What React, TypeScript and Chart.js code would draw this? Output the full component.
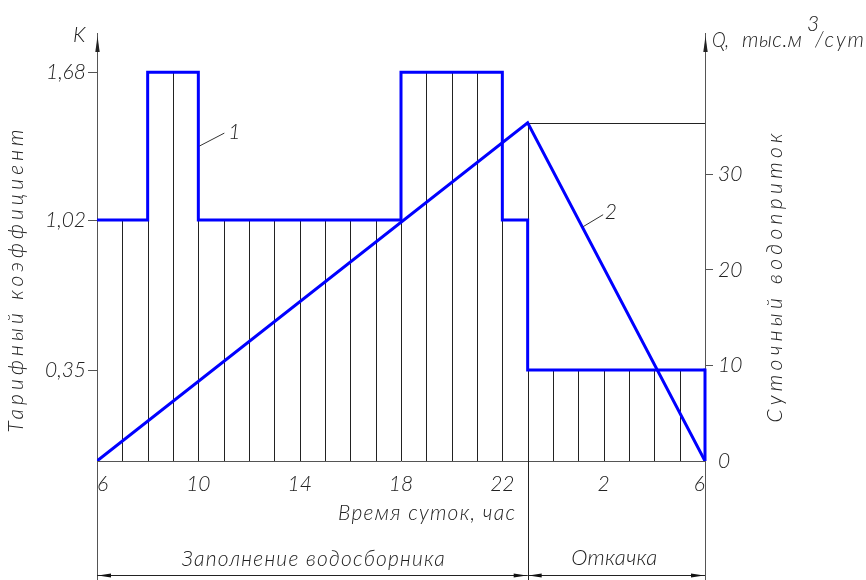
import React, { useEffect, useRef } from 'react';
import { Chart, registerables } from 'chart.js';

Chart.register(...registerables);

// ---------- data ----------
const TARIFF_HOURS = [6, 8, 10, 18, 22, 23, 30];
const TARIFF_VALUES = [1.02, 1.68, 1.02, 1.68, 1.02, 0.35, 0.35];

const INFLOW_HOURS = [6, 23, 30];
const INFLOW_VALUES = [0, 35.4, 0];

const X_TICK_HOURS = [6, 10, 14, 18, 22, 26, 30];
const X_TICK_LABELS = ['6', '10', '14', '18', '22', '2', '6'];

const K_TICKS = [0.35, 1.02, 1.68];
const K_TICK_LABELS = ['0,35', '1,02', '1,68'];

const Q_TICKS = [0, 10, 20, 30];
const Q_TICK_LABELS = ['0', '10', '20', '30'];

const PHASE_BOUNDS = [6, 23, 30];
const PHASE_LABELS = ['Заполнение водосборника', 'Откачка'];

const SERIES_LABELS = ['1', '2'];

// ---------- styling ----------
const W = 866;
const H = 580;
const FAMILY = 'Lato, "DejaVu Sans", sans-serif';
const WEIGHT = 300;
const INK = '#222';
const AXIS = '#555';
const BLUE = '#0000ff';
const K_MIN = -0.056;
const K_MAX = 1.855;
const Q_MIN = 0;
const Q_MAX = 44.8;

const font = (size: number) => `italic ${WEIGHT} ${size}px ${FAMILY}`;

function tariffAt(h: number): number {
  let v = TARIFF_VALUES[0];
  for (let i = 0; i < TARIFF_HOURS.length; i++) {
    if (TARIFF_HOURS[i] <= h) v = TARIFF_VALUES[i];
  }
  return v;
}

function inflowAt(h: number): number {
  for (let i = 0; i < INFLOW_HOURS.length - 1; i++) {
    const a = INFLOW_HOURS[i], b = INFLOW_HOURS[i + 1];
    if (h >= a && h <= b) {
      const t = (h - a) / (b - a);
      return INFLOW_VALUES[i] + t * (INFLOW_VALUES[i + 1] - INFLOW_VALUES[i]);
    }
  }
  return 0;
}

// draw text fitted to a target width (letter spacing, or horizontal squeeze if too wide)
function fitText(ctx: any, text: string, x: number, y: number, width: number, size: number, align: 'left' | 'center' | 'right') {
  ctx.save();
  ctx.font = font(size);
  ctx.fillStyle = INK;
  ctx.textBaseline = 'middle';
  ctx.textAlign = 'left';
  const hasLS = 'letterSpacing' in ctx;
  if (hasLS) ctx.letterSpacing = '0px';
  const w0 = ctx.measureText(text).width;
  const n = text.length;
  let ls = n > 1 ? (width - w0) / (n - 1) : 0;
  let sx = 1;
  if (!hasLS || ls < 0) {
    ls = 0;
    sx = width / w0;
  }
  let left = x;
  if (align === 'center') left = x - width / 2;
  if (align === 'right') left = x - width;
  ctx.translate(left, y);
  ctx.scale(sx, 1);
  if (hasLS) ctx.letterSpacing = `${ls}px`;
  ctx.fillText(text, 0, 0);
  ctx.restore();
}

function line(ctx: any, x1: number, y1: number, x2: number, y2: number) {
  ctx.beginPath();
  ctx.moveTo(x1, y1);
  ctx.lineTo(x2, y2);
  ctx.stroke();
}

function arrowHead(ctx: any, tx: number, ty: number, dx: number, dy: number, len: number, half: number) {
  const bx = tx - dx * len, by = ty - dy * len;
  const nx = -dy, ny = dx;
  ctx.beginPath();
  ctx.moveTo(tx, ty);
  ctx.lineTo(bx + nx * half, by + ny * half);
  ctx.lineTo(bx - nx * half, by - ny * half);
  ctx.closePath();
  ctx.fill();
}

const decor = {
  id: 'decor',
  beforeDatasetsDraw(chart: any) {
    const { ctx, chartArea: a, scales } = chart;
    const x = scales.x, yk = scales.y, yq = scales.y1;
    const peakHour = INFLOW_HOURS[1];
    const peakY = yq.getPixelForValue(INFLOW_VALUES[1]);
    ctx.save();
    ctx.strokeStyle = '#222';
    ctx.lineWidth = 1;
    for (let h = X_TICK_HOURS[0] + 1; h < X_TICK_HOURS[X_TICK_HOURS.length - 1]; h++) {
      const px = Math.round(x.getPixelForValue(h)) + 0.5;
      if (h === peakHour) {
        line(ctx, px, peakY, px, H);
      } else {
        line(ctx, px, a.bottom, px, yk.getPixelForValue(tariffAt(h)));
      }
    }
    line(ctx, x.getPixelForValue(peakHour), Math.round(peakY) + 0.5, a.right, Math.round(peakY) + 0.5);
    ctx.strokeStyle = AXIS;
    line(ctx, Math.round(a.left) + 0.5, a.bottom, Math.round(a.left) + 0.5, H);
    line(ctx, Math.round(a.right) + 0.5, a.bottom, Math.round(a.right) + 0.5, H);
    ctx.restore();
  },
  afterDatasetsDraw(chart: any) {
    const { ctx, chartArea: a, scales } = chart;
    const x = scales.x, yk = scales.y, yq = scales.y1;
    ctx.save();
    const endH = TARIFF_HOURS[TARIFF_HOURS.length - 1];
    ctx.strokeStyle = BLUE;
    ctx.lineWidth = 3;
    const ex = x.getPixelForValue(endH);
    line(ctx, ex, yk.getPixelForValue(TARIFF_VALUES[TARIFF_VALUES.length - 1]) - 1.5, ex, a.bottom);

    ctx.fillStyle = '#222';
    ctx.strokeStyle = AXIS;
    ctx.lineWidth = 1;
    arrowHead(ctx, Math.round(a.left) + 0.5, a.top + 3, 0, -1, 16, 2.2);
    arrowHead(ctx, Math.round(a.right) + 0.5, a.top + 3, 0, -1, 16, 2.2);

    const dimY = 575.5;
    ctx.strokeStyle = '#222';
    ctx.fillStyle = '#111';
    for (let i = 0; i < PHASE_BOUNDS.length - 1; i++) {
      const x1 = x.getPixelForValue(PHASE_BOUNDS[i]);
      const x2 = x.getPixelForValue(PHASE_BOUNDS[i + 1]);
      line(ctx, x1, dimY, x2, dimY);
      arrowHead(ctx, x1 + 1, dimY, -1, 0, 13, 2);
      arrowHead(ctx, x2 - 1, dimY, 1, 0, 13, 2);
    }
    fitText(ctx, PHASE_LABELS[0], (x.getPixelForValue(PHASE_BOUNDS[0]) + x.getPixelForValue(PHASE_BOUNDS[1])) / 2 + 1, 559, 263, 21, 'center');
    fitText(ctx, PHASE_LABELS[1], (x.getPixelForValue(PHASE_BOUNDS[1]) + x.getPixelForValue(PHASE_BOUNDS[2])) / 2 - 2, 558, 86, 22, 'center');

    fitText(ctx, 'Время суток, час', 515, 513, 177, 21, 'right');

    fitText(ctx, 'K', 79, 35, 12, 21, 'center');
    fitText(ctx, 'Q,', 712, 40, 17, 21, 'left');
    fitText(ctx, 'тыс.м', 742, 40, 60, 21, 'left');
    fitText(ctx, '3', 807, 24, 9, 21, 'left');
    fitText(ctx, '/сут', 815, 40, 49, 21, 'left');

    ctx.save();
    ctx.translate(16, 281);
    ctx.rotate(-Math.PI / 2);
    fitText(ctx, 'Тарифный коэффициент', 0, 0, 303, 21, 'center');
    ctx.restore();
    ctx.save();
    ctx.translate(775, 278);
    ctx.rotate(-Math.PI / 2);
    fitText(ctx, 'Суточный водоприток', 0, 0, 289, 21, 'center');
    ctx.restore();

    ctx.strokeStyle = '#333';
    ctx.lineWidth = 1;
    const p1x = x.getPixelForValue(TARIFF_HOURS[2]) + 1;
    const p1y = yk.getPixelForValue((TARIFF_VALUES[1] + TARIFF_VALUES[2]) / 2);
    line(ctx, p1x, p1y, p1x + 25, p1y - 13);
    fitText(ctx, SERIES_LABELS[0], p1x + 33, p1y - 14, 8, 21, 'center');

    const h2 = 25.15;
    const p2x = x.getPixelForValue(h2) + 1;
    const p2y = yq.getPixelForValue(inflowAt(h2));
    line(ctx, p2x, p2y, p2x + 20, p2y - 12);
    fitText(ctx, SERIES_LABELS[1], p2x + 27, p2y - 14, 11, 21, 'center');
    ctx.restore();
  },
};

export default function App() {
  const ref = useRef<HTMLCanvasElement>(null);
  useEffect(() => {
    document.body.style.margin = '0';
    const canvas = ref.current!;
    const tickFont = { family: FAMILY, size: 21, style: 'italic' as const, weight: WEIGHT };
    const chart = new Chart(canvas, {
      type: 'line',
      data: {
        datasets: [
          {
            label: 'K',
            data: TARIFF_HOURS.map((h, i) => ({ x: h, y: TARIFF_VALUES[i] })),
            yAxisID: 'y',
            stepped: 'before',
            borderColor: BLUE,
            borderWidth: 3,
            pointRadius: 0,
            fill: false,
          },
          {
            label: 'Q',
            data: INFLOW_HOURS.map((h, i) => ({ x: h, y: INFLOW_VALUES[i] })),
            yAxisID: 'y1',
            borderColor: BLUE,
            borderWidth: 3,
            pointRadius: 0,
            tension: 0,
            fill: false,
          },
        ],
      },
      options: {
        responsive: false,
        animation: false,
        devicePixelRatio: 1,
        events: [],
        layout: { padding: { top: 33, left: 0, right: 0, bottom: 0 } },
        plugins: {
          legend: { display: false },
          tooltip: { enabled: false },
          title: { display: false },
        },
        scales: {
          x: {
            type: 'linear',
            position: 'bottom',
            min: X_TICK_HOURS[0],
            max: X_TICK_HOURS[X_TICK_HOURS.length - 1],
            afterBuildTicks: (s: any) => {
              s.ticks = X_TICK_HOURS.map((v) => ({ value: v }));
            },
            afterFit: (s: any) => {
              s.height = 119;
            },
            grid: { display: false },
            border: { display: true, color: AXIS, width: 1 },
            ticks: {
              autoSkip: false,
              maxRotation: 0,
              minRotation: 0,
              align: 'inner',
              padding: 3,
              color: INK,
              font: tickFont,
              callback: (_v: any, i: number) => X_TICK_LABELS[i],
            },
          },
          y: {
            type: 'linear',
            position: 'left',
            min: K_MIN,
            max: K_MAX,
            afterBuildTicks: (s: any) => {
              s.ticks = K_TICKS.map((v) => ({ value: v }));
            },
            afterFit: (s: any) => {
              s.width = 97;
            },
            grid: { drawOnChartArea: false, drawTicks: true, tickLength: 9, color: AXIS },
            border: { display: true, color: AXIS, width: 1 },
            ticks: {
              padding: 2,
              color: INK,
              font: tickFont,
              callback: (_v: any, i: number) => K_TICK_LABELS[i],
            },
          },
          y1: {
            type: 'linear',
            position: 'right',
            min: Q_MIN,
            max: Q_MAX,
            afterBuildTicks: (s: any) => {
              s.ticks = Q_TICKS.map((v) => ({ value: v }));
            },
            afterFit: (s: any) => {
              s.width = W - 705;
            },
            grid: {
              drawOnChartArea: false,
              drawTicks: true,
              tickLength: 8,
              color: (c: any) => (c.tick && c.tick.value === 0 ? 'rgba(0,0,0,0)' : AXIS),
            },
            border: { display: true, color: AXIS, width: 1 },
            ticks: {
              padding: 5,
              color: INK,
              font: tickFont,
              callback: (_v: any, i: number) => Q_TICK_LABELS[i],
            },
          },
        },
      },
      plugins: [decor],
    });
    return () => chart.destroy();
  }, []);
  return (
    <div style={{ width: W, height: H, background: '#fff' }}>
      <canvas ref={ref} width={W} height={H} style={{ display: 'block' }} />
    </div>
  );
}
